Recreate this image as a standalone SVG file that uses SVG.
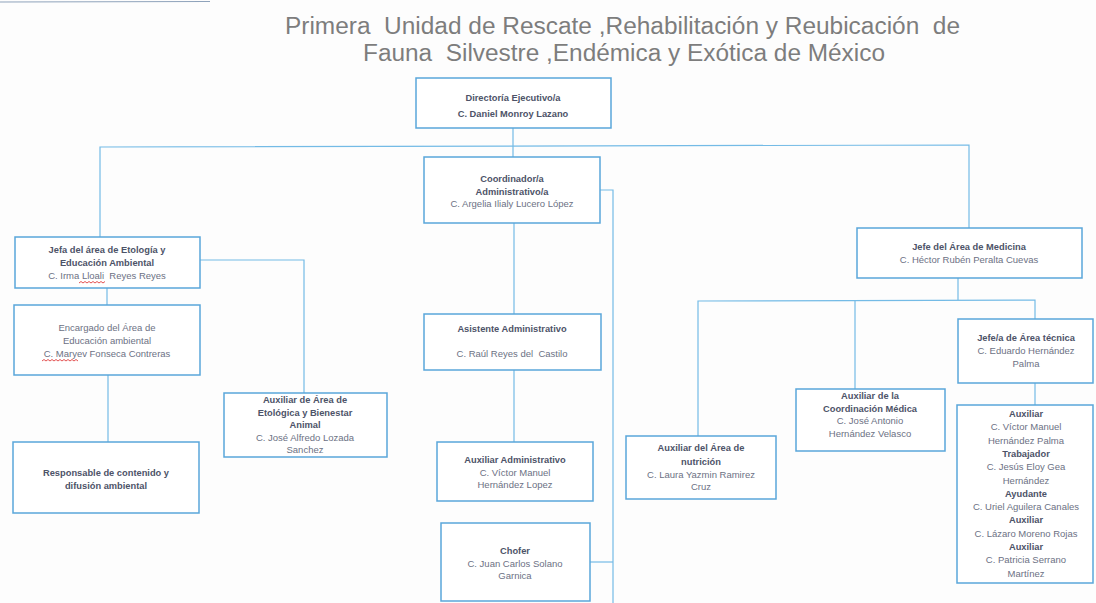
<svg xmlns="http://www.w3.org/2000/svg" width="1096" height="603" viewBox="0 0 1096 603">
<style>
.box{fill:#ffffff;stroke:#5aa6da;stroke-width:1.5}
.ln{fill:none;stroke:#74bbe6;stroke-width:1.2}
.t{font-family:"Liberation Sans",Arial,sans-serif;font-size:9.5px;text-anchor:middle;fill:#6c7184}
.b{font-weight:bold;fill:#4d5368;font-size:9.3px}
.title{font-family:"Liberation Sans",Arial,sans-serif;font-size:23px;fill:#7d7d7d}
.sq{fill:none;stroke:#e04040;stroke-width:0.9}
</style>
<rect width="1096" height="603" fill="#fdfdfd"/>
<line x1="0" y1="2" x2="210" y2="1.5" stroke="#8fa3bb" stroke-width="1.2"/>
<text class="title" x="285" y="34" textLength="675" lengthAdjust="spacingAndGlyphs" xml:space="preserve">Primera  Unidad de Rescate ,Rehabilitación y Reubicación  de</text>
<text class="title" x="363" y="61" textLength="522" lengthAdjust="spacingAndGlyphs" xml:space="preserve">Fauna  Silvestre ,Endémica y Exótica de México</text>
<g id="connectors">
<polyline class="ln" points="513,128 513,158"/>
<polyline class="ln" points="100,237 100,147 969,145 969,228"/>
<polyline class="ln" points="200,260 304,260 304,393"/>
<polyline class="ln" points="107,288 107,305"/>
<polyline class="ln" points="108,375 108,442"/>
<polyline class="ln" points="514,223 514,314"/>
<polyline class="ln" points="514,370 514,442"/>
<polyline class="ln" points="600,190 613,190 613,603"/>
<polyline class="ln" points="613,562 590,562"/>
<polyline class="ln" points="958,278 958,300"/>
<polyline class="ln" points="698,436 698,301 1035,300 1035,319"/>
<polyline class="ln" points="855,301 855,389"/>
<polyline class="ln" points="1035,383 1035,405"/>
</g>
<g id="n-direccion">
<rect class="box" x="416" y="78" width="195" height="50"/>
<text class="t b" x="513" y="101">Directoría Ejecutivo/a</text>
<text class="t b" x="513" y="117">C. Daniel Monroy Lazano</text>
</g>
<g id="n-coordinador">
<rect class="box" x="424" y="157" width="176" height="66"/>
<text class="t b" x="512" y="182">Coordinador/a</text>
<text class="t b" x="512" y="195">Administrativo/a</text>
<text class="t" x="512" y="207">C. Argelia Ilialy Lucero López</text>
</g>
<g id="n-etologia">
<rect class="box" x="15" y="237" width="185" height="51"/>
<text class="t b" x="107" y="253">Jefa del área de Etología y</text>
<text class="t b" x="107" y="266">Educación Ambiental</text>
<text class="t" x="107" y="279" xml:space="preserve">C. Irma Lloali  Reyes Reyes</text>
<path class="sq" d="M79,283 l2,-1.5 l2,1.5 l2,-1.5 l2,1.5 l2,-1.5 l2,1.5 l2,-1.5 l2,1.5 l2,-1.5 l2,1.5 l2,-1.5 l2,1.5 l2,-1.5"/>
</g>
<g id="n-encargado">
<rect class="box" x="14" y="305" width="186" height="70"/>
<text class="t" x="107" y="331">Encargado del Área de</text>
<text class="t" x="107" y="344">Educación ambiental</text>
<text class="t" x="107" y="357">C. Maryev Fonseca Contreras</text>
<path class="sq" d="M42,361 l2,-1.5 l2,1.5 l2,-1.5 l2,1.5 l2,-1.5 l2,1.5 l2,-1.5 l2,1.5 l2,-1.5 l2,1.5 l2,-1.5 l2,1.5 l2,-1.5 l2,1.5 l2,-1.5 l2,1.5 l2,-1.5 l2,1.5"/>
</g>
<g id="n-responsable">
<rect class="box" x="13" y="442" width="186" height="71"/>
<text class="t b" x="106" y="476">Responsable de contenido y</text>
<text class="t b" x="106" y="489">difusión ambiental</text>
</g>
<g id="n-aux-etologica">
<rect class="box" x="224" y="393" width="163" height="64"/>
<text class="t b" x="305" y="403">Auxiliar de Área de</text>
<text class="t b" x="305" y="415.5">Etológica y Bienestar</text>
<text class="t b" x="305" y="428">Animal</text>
<text class="t" x="305" y="440.5">C. José Alfredo Lozada</text>
<text class="t" x="305" y="453">Sanchez</text>
</g>
<g id="n-asistente">
<rect class="box" x="424" y="314" width="177" height="56"/>
<text class="t b" x="512" y="332">Asistente Administrativo</text>
<text class="t" x="512" y="357" xml:space="preserve">C. Raúl Reyes del  Castilo</text>
</g>
<g id="n-aux-admin">
<rect class="box" x="437" y="442" width="156" height="59"/>
<text class="t b" x="515" y="463">Auxiliar Administrativo</text>
<text class="t" x="515" y="476">C. Víctor Manuel</text>
<text class="t" x="515" y="488">Hernández Lopez</text>
</g>
<g id="n-chofer">
<rect class="box" x="441" y="523" width="149" height="78"/>
<text class="t b" x="515" y="554">Chofer</text>
<text class="t" x="515" y="567">C. Juan Carlos Solano</text>
<text class="t" x="515" y="579">Garnica</text>
</g>
<g id="n-medicina">
<rect class="box" x="857" y="228" width="225" height="50"/>
<text class="t b" x="969" y="250">Jefe del Área de Medicina</text>
<text class="t" x="969" y="263">C. Héctor Rubén Peralta Cuevas</text>
</g>
<g id="n-tecnica">
<rect class="box" x="958" y="319" width="135" height="64"/>
<text class="t b" x="1026" y="341">Jefe/a de Área técnica</text>
<text class="t" x="1026" y="354">C. Eduardo Hernández</text>
<text class="t" x="1026" y="367">Palma</text>
</g>
<g id="n-nutricion">
<rect class="box" x="626" y="436" width="150" height="63"/>
<text class="t b" x="701" y="451">Auxiliar del Área de</text>
<text class="t b" x="701" y="465">nutrición</text>
<text class="t" x="701" y="478">C. Laura Yazmin Ramirez</text>
<text class="t" x="701" y="490">Cruz</text>
</g>
<g id="n-coord-medica">
<rect class="box" x="796" y="389" width="149" height="62"/>
<text class="t b" x="870" y="399">Auxiliar de la</text>
<text class="t b" x="870" y="412">Coordinación Médica</text>
<text class="t" x="870" y="424">C. José Antonio</text>
<text class="t" x="870" y="437">Hernández Velasco</text>
</g>
<g id="n-personal">
<rect class="box" x="957" y="405" width="136" height="178"/>
<text class="t b" x="1026" y="417">Auxiliar</text>
<text class="t" x="1026" y="430.3">C. Víctor Manuel</text>
<text class="t" x="1026" y="443.6">Hernández Palma</text>
<text class="t b" x="1026" y="456.9">Trabajador</text>
<text class="t" x="1026" y="470.2">C. Jesús Eloy Gea</text>
<text class="t" x="1026" y="483.5">Hernández</text>
<text class="t b" x="1026" y="496.8">Ayudante</text>
<text class="t" x="1026" y="510.1">C. Uriel Aguilera Canales</text>
<text class="t b" x="1026" y="523.4">Auxiliar</text>
<text class="t" x="1026" y="536.7">C. Lázaro Moreno Rojas</text>
<text class="t b" x="1026" y="550">Auxiliar</text>
<text class="t" x="1026" y="563.3">C. Patricia Serrano</text>
<text class="t" x="1026" y="576.6">Martínez</text>
</g>
</svg>
